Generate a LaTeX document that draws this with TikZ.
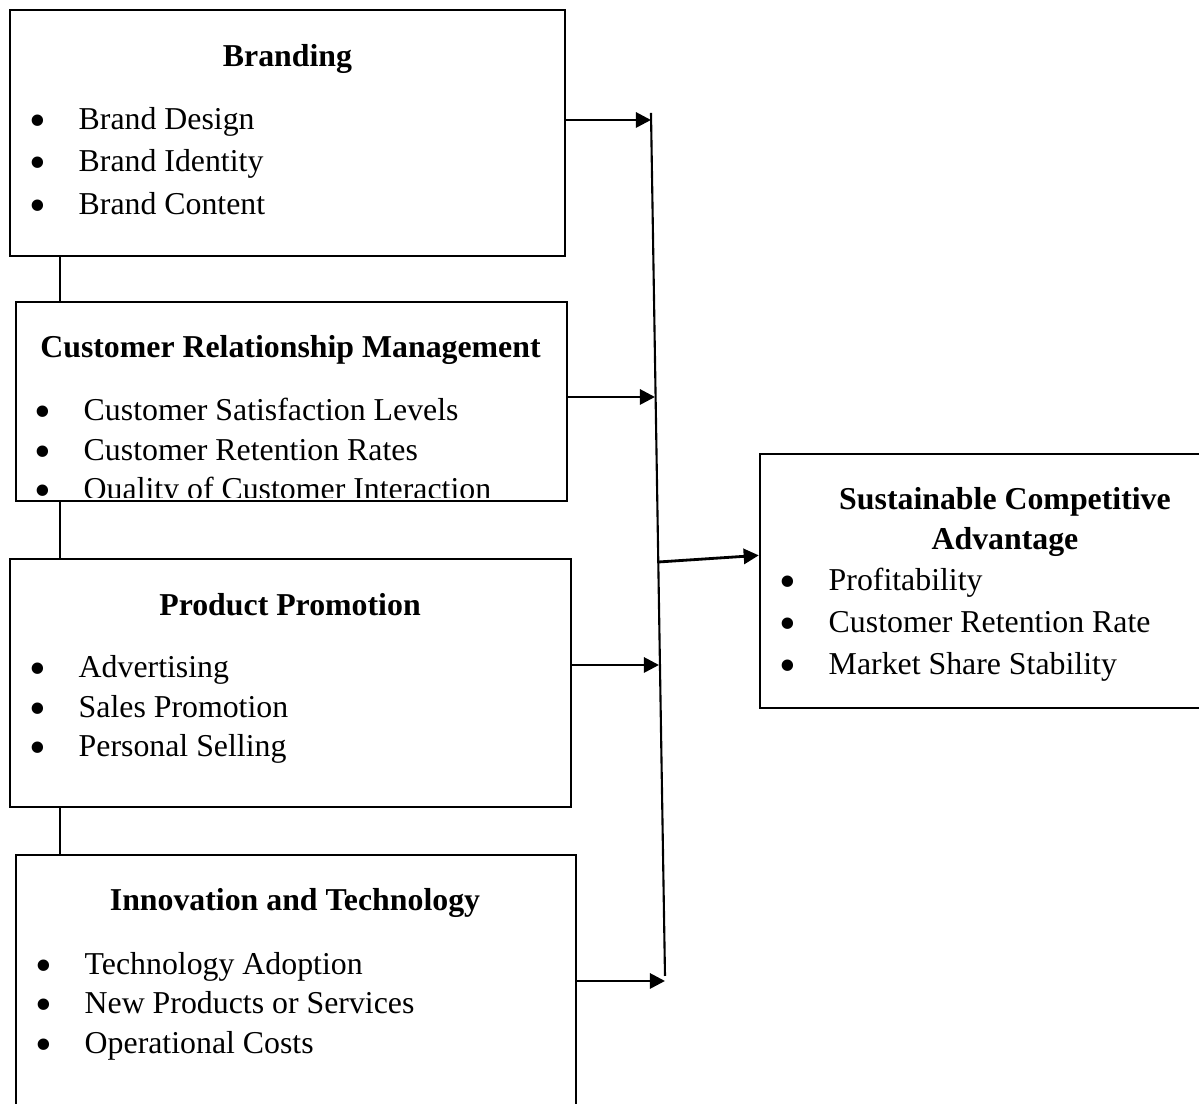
\documentclass[tikz,border=0pt]{standalone}
\usepackage{fontspec}
\setmainfont{Liberation Serif}
\usetikzlibrary{positioning, arrows.meta, calc}
\newcommand{\bul}{\makebox[0.49cm][l]{\smash{\raisebox{-0.2em}{\scalebox{1.5}{\textbullet}}}}}

\begin{document}
\begin{tikzpicture}[
        x=0.01cm, y=-0.01cm, % one unit per pixel, y down
        every node/.style={font=\fontsize{9.05}{11}\selectfont, inner sep=0pt}, % Text style
        box/.style={draw, rectangle, line width=0.6pt}, % Box style
        title/.style={anchor=base, font=\fontsize{9.05}{11}\selectfont\bfseries},
        entry/.style={anchor=base west},
        link/.style={line width=0.6pt},
        arrow/.style={-{Triangle[length=4.3pt, width=4.3pt]}, line width=0.8pt} % Arrow style
    ]
    \useasboundingbox (0,0) rectangle (1199,1104);
    \clip (0,0) rectangle (1199,1104);

    % Boxes
    \node[box, minimum width=5.55cm, minimum height=2.46cm] (brand) at (287.5,133) {};
    \node[box, minimum width=5.51cm, minimum height=1.99cm] (crm) at (291.5,401.5) {};
    \node[box, minimum width=5.61cm, minimum height=2.48cm] (promo) at (290.5,683) {};
    \node[box, minimum width=5.60cm, minimum height=2.95cm] (innov) at (296,1002.5) {};
    \node[box, minimum width=4.50cm, minimum height=2.54cm] (sca) at (985,581) {};

    % Branding
    \node[title] (brandT) at (287.5,67) {Branding};
    \node[entry] (brand1) at (29,130) {\bul Brand Design};
    \node[entry] (brand2) at (29,172) {\bul Brand Identity};
    \node[entry] (brand3) at (29,215) {\bul Brand Content};

    % Customer relationship management (last line cut by the box)
    \node[title] (crmT) at (290.5,358) {Customer Relationship Management};
    \begin{scope}
        \clip (crm.north west) rectangle ([yshift=0.05cm]crm.south east);
        \node[entry] (crm1) at (34,421) {\bul Customer Satisfaction Levels};
        \node[entry] (crm2) at (34,461) {\bul Customer Retention Rates};
        \node[entry] (crm3) at (34,500) {\bul Quality of Customer Interaction};
    \end{scope}

    % Product promotion
    \node[title] (promoT) at (290,616) {Product Promotion};
    \node[entry] (promo1) at (29,678) {\bul Advertising};
    \node[entry] (promo2) at (29,718) {\bul Sales Promotion};
    \node[entry] (promo3) at (29,757) {\bul Personal Selling};

    % Innovation and technology
    \node[title] (innovT) at (295,911) {Innovation and Technology};
    \node[entry] (innov1) at (35,975) {\bul Technology Adoption};
    \node[entry] (innov2) at (35,1014) {\bul New Products or Services};
    \node[entry] (innov3) at (35,1054) {\bul Operational Costs};

    % Sustainable competitive advantage
    \node[title] (scaT1) at (1005,510) {Sustainable Competitive};
    \node[title] (scaT2) at (1005,550) {Advantage};
    \node[entry] (sca1) at (779,591) {\bul Profitability};
    \node[entry] (sca2) at (779,633) {\bul Customer Retention Rate};
    \node[entry] (sca3) at (779,675) {\bul Market Share Stability};

    % Links between the left boxes
    \coordinate (spine) at (60,0);
    \draw[link] (brand.south -| spine) -- (crm.north -| spine);
    \draw[link] (crm.south -| spine) -- (promo.north -| spine);
    \draw[link] (promo.south -| spine) -- (innov.north -| spine);

    % Collecting line
    \coordinate (top) at (651,113);
    \coordinate (bot) at (665,976);
    \draw[link] (top) -- (bot);

    \coordinate (j1) at (651,120);
    \coordinate (j2) at (655,397);
    \coordinate (j3) at (659,665);
    \coordinate (j4) at (665,981);
    \coordinate (j0) at (658.5,562);

    % Arrows
    \draw[arrow] (brand.east |- j1) -- (j1);
    \draw[arrow] (crm.east |- j2) -- (j2);
    \draw[arrow] (promo.east |- j3) -- (j3);
    \draw[arrow] (innov.east |- j4) -- (j4);
    \draw[arrow] (j0) -- ($(sca.north west)!0.4!(sca.south west)$);

\end{tikzpicture}
\end{document}
